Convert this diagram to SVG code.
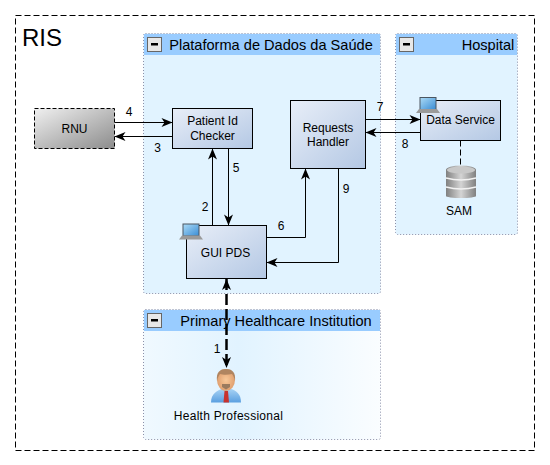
<svg xmlns="http://www.w3.org/2000/svg" width="550" height="465" viewBox="0 0 550 465">
<style>
text{font-family:"Liberation Sans",Arial,sans-serif;fill:#000;font-size:12px;text-anchor:middle}
.title{font-size:14.6px}
.node{fill:url(#nodeG);stroke:#000;stroke-width:1}
.panel{stroke:#8a8fa8;stroke-width:1;stroke-dasharray:1 2}
.head{fill:#99ccff}
.btn{fill:#e8e8e8;stroke:#666;stroke-width:1}
.c{fill:none;stroke:#000;stroke-width:1}
</style>
<defs>
<linearGradient id="nodeG" x1="0" y1="0" x2="1" y2="1"><stop offset="0" stop-color="#e8eef8"/><stop offset="1" stop-color="#b4c8e4"/></linearGradient>
<linearGradient id="rnuG" x1="0" y1="0" x2="1" y2="1"><stop offset="0" stop-color="#f0f0f0"/><stop offset="1" stop-color="#8c8c8c"/></linearGradient>
<linearGradient id="primG" x1="0" y1="0" x2="1" y2="0"><stop offset="0" stop-color="#f0f9ff"/><stop offset=".4" stop-color="#e1f3ff"/><stop offset="1" stop-color="#fafdff"/></linearGradient>
<linearGradient id="dbG" x1="0" y1="0" x2="1" y2="0"><stop offset="0" stop-color="#808080"/><stop offset=".5" stop-color="#d4d4d4"/><stop offset="1" stop-color="#808080"/></linearGradient>
<linearGradient id="lapG" x1="0" y1="0" x2="1" y2="1"><stop offset="0" stop-color="#a8d8f5"/><stop offset="1" stop-color="#3d8fd6"/></linearGradient>
<linearGradient id="shirtG" x1="0" y1="0" x2="0" y2="1"><stop offset="0" stop-color="#a9d4f5"/><stop offset="1" stop-color="#5a9fe0"/></linearGradient>
<radialGradient id="faceG"><stop offset="0" stop-color="#f8c898"/><stop offset="1" stop-color="#e0a070"/></radialGradient>
<marker id="ah" viewBox="0 0 12 10" refX="11.500" refY="5" markerWidth="12" markerHeight="10" markerUnits="userSpaceOnUse" orient="auto-start-reverse"><path d="M0.500 0.500 L11.500 5 L0.500 9.500 L3.500 5 Z" fill="#000"/></marker>
<g id="lap"><path d="M3.500 0.500H20.500V13H3.500Z" fill="#4a5560"/><rect x="4.500" y="1.500" width="15" height="11" fill="url(#lapG)"/><path d="M3 12.500H21L24 16.500H0Z" fill="#9a9a9a"/></g>
</defs>
<rect id="ris-border" x="15.500" y="15.500" width="519" height="435" fill="#fff" stroke="#000" stroke-dasharray="6 3"/>
<text x="42" y="46" style="font-size:24px">RIS</text>

<g id="panel-plataforma">
<rect class="panel" x="143.500" y="33.500" width="237" height="260" rx="2" fill="#e1f3ff"/>
<rect class="head" x="144" y="34" width="236" height="21"/>
<rect class="btn" x="147.500" y="37.500" width="14" height="14"/><rect x="151" y="43" width="7" height="2.500" fill="#000"/>
<text class="title" x="271" y="50">Plataforma de Dados da Saúde</text>
</g>
<g id="panel-hospital">
<rect class="panel" x="395.500" y="33.500" width="122" height="201" rx="2" fill="#e1f3ff"/>
<rect class="head" x="396" y="34" width="121" height="21"/>
<rect class="btn" x="399.500" y="37.500" width="14" height="14"/><rect x="403" y="43" width="7" height="2.500" fill="#000"/>
<text class="title" x="488" y="50">Hospital</text>
</g>
<g id="panel-primary">
<rect class="panel" x="143.500" y="309.500" width="237" height="130" rx="2" fill="url(#primG)"/>
<rect class="head" x="144" y="310" width="236" height="21"/>
<rect class="btn" x="147.500" y="313.500" width="14" height="14"/><rect x="151" y="319" width="7" height="2.500" fill="#000"/>
<text class="title" x="276" y="326">Primary Healthcare Institution</text>
</g>

<g id="connectors">
<path class="c" d="M114.500 122.500H172.500" marker-end="url(#ah)"/>
<path class="c" d="M172.500 136.500H114.500" marker-end="url(#ah)"/>
<path class="c" d="M212.500 225.500V148.500" marker-end="url(#ah)"/>
<path class="c" d="M228.500 148.500V225.500" marker-end="url(#ah)"/>
<path class="c" d="M266.500 237.500H305.500V168.500" marker-end="url(#ah)"/>
<path class="c" d="M338.500 168.500V262.500H266.500" marker-end="url(#ah)"/>
<path class="c" d="M365.500 119.500H420.500" marker-end="url(#ah)"/>
<path class="c" d="M420.500 132.500H365.500" marker-end="url(#ah)"/>
<path class="c" d="M460.500 140.500V165" stroke-dasharray="6 3"/>
<path class="c" d="M226.500 279V368" style="stroke-width:2.500" stroke-dasharray="11 4" marker-start="url(#ah)" marker-end="url(#ah)"/>
<text x="129" y="116">4</text><text x="157.500" y="152">3</text><text x="205" y="211">2</text><text x="236" y="172">5</text><text x="281" y="230">6</text><text x="346" y="193">9</text><text x="380" y="111">7</text><text x="405" y="148">8</text><text x="217" y="353">1</text>
</g>

<g id="node-rnu"><rect x="34.500" y="108.500" width="80" height="40" fill="url(#rnuG)" stroke="#000" stroke-dasharray="4 2"/><text x="74.500" y="133">RNU</text></g>
<g id="node-patient"><rect class="node" x="172.500" y="108.500" width="80" height="40"/><text x="212.500" y="125">Patient Id</text><text x="212.500" y="140">Checker</text></g>
<g id="node-requests"><rect class="node" x="290.500" y="100.500" width="75" height="68"/><text x="328" y="132">Requests</text><text x="328" y="146">Handler</text></g>
<g id="node-dataservice"><rect class="node" x="420.500" y="100.500" width="80" height="40"/><text x="460.500" y="124">Data Service</text><use href="#lap" x="416" y="96.500"/></g>
<g id="node-guipds"><rect class="node" x="186.500" y="225.500" width="80" height="53"/><text x="225.500" y="257">GUI PDS</text><use href="#lap" x="179" y="223"/></g>
<g id="node-sam">
<path d="M446 170a15 4.500 0 0 1 30 0V196a15 2 0 0 1-30 0Z" fill="url(#dbG)"/>
<path d="M446 178q15 4 30 0M446 187q15 4 30 0" fill="none" stroke="#f2f2f2" stroke-width="1.500"/>
<ellipse cx="461" cy="170" rx="14" ry="3.500" fill="#c8c8c8"/>
<text x="459" y="215">SAM</text>
</g>
<g id="node-health">
<path d="M211 402.500c0-9 6-12 12-14h7c6 2 11 5 11 14z" fill="url(#shirtG)"/>
<path d="M224.500 391h3.500l1 11.500h-5.500z" fill="#c8332e"/>
<ellipse cx="226" cy="380" rx="9" ry="11" fill="url(#faceG)"/>
<path d="M217 381c-1-9 3-12 9-12s10 3 9 12c-1-4-2-6-3-7-4 1-9 1-12 0-1 1-2 3-3 7z" fill="#b08560"/>
<path d="M222 384h8v3l-4 2.500-4-2.500z" fill="#9a7a5e"/>
<text x="228.500" y="420" letter-spacing=".28">Health Professional</text>
</g>
</svg>
